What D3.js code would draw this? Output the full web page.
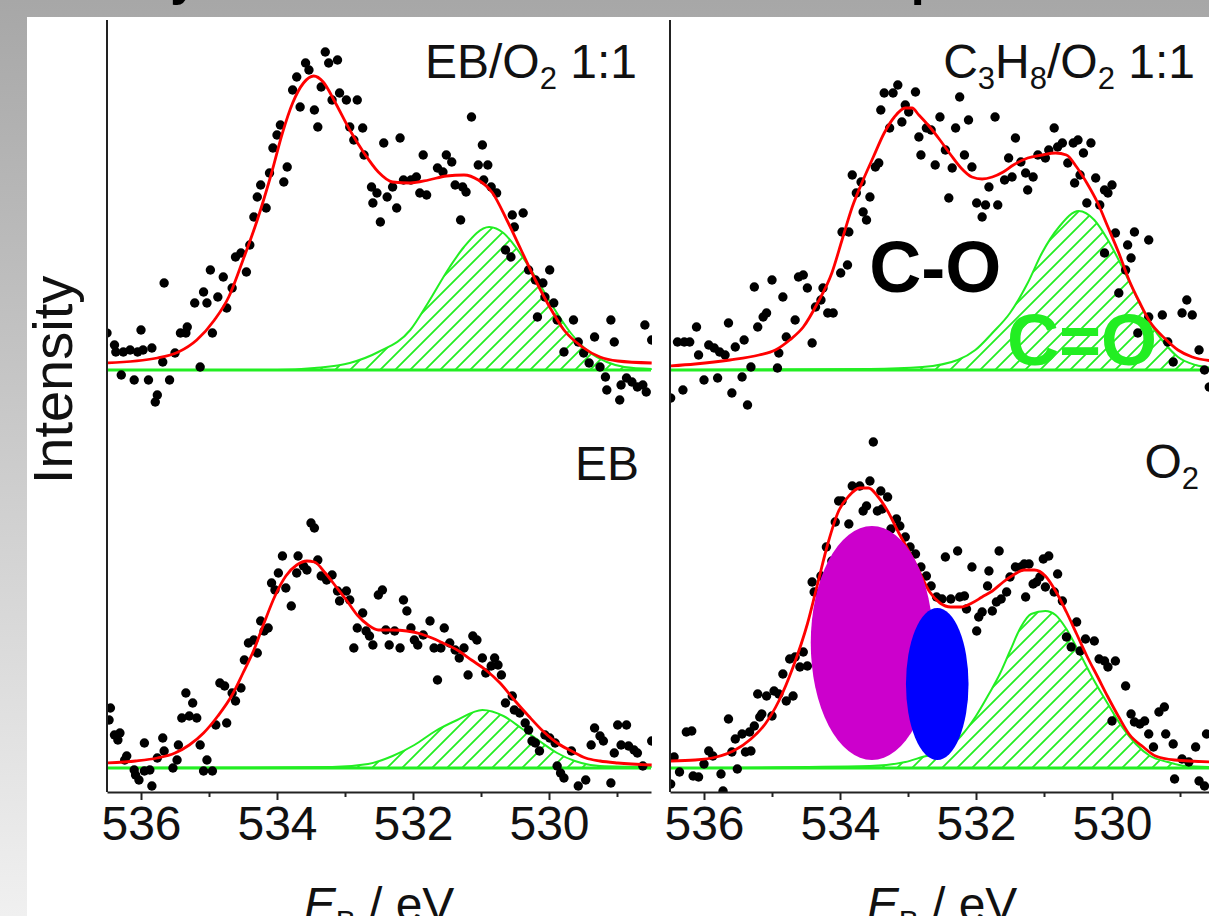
<!DOCTYPE html>
<html>
<head>
<meta charset="utf-8">
<script src="https://cdn.jsdelivr.net/npm/d3@7"></script>
<style>
  body { margin: 0; background: #fff; }
  svg { display: block; font-family: "Liberation Sans", Arial, sans-serif; }
</style>
</head>
<body>
<div id="chart"></div>
<script>
// O 1s spectra: binding energy (eV) vs intensity (a.u., 0 = background)
var majorTicks = [536, 534, 532, 530];
var minorTicks = [535, 533, 531, 529];

// ---- EB/O2 1:1 ----
var ebo2Points = [
  [536.50,0.37],[536.39,0.25],[536.37,0.18],[536.26,0.18],[536.16,0.20],[536.05,0.18],[535.97,0.20],[535.84,0.22],
  [536.00,0.40],[536.29,-0.05],[536.10,-0.10],[535.89,-0.10],[535.76,-0.25],[535.79,-0.32],[535.58,-0.10],[535.68,0.08],
  [535.50,0.17],[535.66,0.87],[535.42,0.37],[535.32,0.43],[535.34,0.37],[535.21,0.67],[535.08,0.78],[535.03,0.67],
  [534.98,1.00],[534.87,0.73],[534.79,0.93],[534.74,0.62],[534.66,0.82],[534.95,0.37],[535.13,0.03],[534.61,1.13],
  [534.53,1.17],[534.45,0.98],[534.40,1.25],[534.34,1.53],[534.29,1.73],[534.24,1.85],[534.16,1.62],[534.11,1.97],
  [534.06,2.22],[534.00,2.35],[533.95,2.45],[533.85,2.03],[533.90,1.88],[533.77,2.80],[533.71,2.93],[533.66,2.63],
  [533.58,3.07],[533.53,3.00],[533.45,2.60],[533.40,2.43],[533.35,2.83],[533.29,3.18],[533.24,3.07],[533.11,3.10],
  [533.19,2.70],[533.08,2.77],[532.98,2.70],[532.82,2.70],[532.93,2.43],[532.87,2.30],[532.74,2.42],[532.72,2.15],
  [532.61,1.83],[532.53,1.77],[532.43,2.27],[532.38,1.73],[532.30,1.83],[532.19,2.32],[532.14,1.90],[532.24,1.62],
  [532.48,1.48],[532.59,1.67],[532.03,1.90],[531.95,1.93],[531.90,1.77],[531.85,2.15],[531.80,1.75],[531.64,2.02],
  [531.56,1.98],[531.51,2.15],[531.43,2.08],[531.38,1.85],[531.27,1.83],[531.22,1.78],[531.14,2.53],[531.04,2.05],
  [530.98,2.25],[530.90,2.05],[530.96,1.90],[530.85,1.83],[530.77,1.77],[531.30,1.50],[530.54,1.55],[530.38,1.57],
  [530.51,1.43],[530.64,1.20],[530.56,1.13],[530.30,1.00],[530.20,0.90],[530.09,0.87],[529.99,1.00],[530.06,0.73],
  [529.93,0.67],[530.17,0.53],[529.88,0.50],[529.78,0.18],[529.64,0.50],[529.57,0.28],[529.49,0.17],[529.33,0.33],
  [529.41,0.07],[529.25,0.03],[529.09,0.50],[529.04,0.28],[529.17,-0.07],[529.15,-0.20],[528.94,-0.15],[528.86,-0.08],
  [528.78,-0.12],[528.70,-0.17],[528.62,-0.15],[528.59,0.45],[528.49,0.30],[528.57,-0.22],[528.96,-0.30]
];
var ebo2Fit = [
  [536.50,0.07],[535.76,0.12],[535.45,0.18],[535.18,0.30],[534.92,0.50],[534.71,0.73],[534.50,1.10],[534.29,1.50],
  [534.08,1.97],[533.92,2.37],[533.77,2.67],[533.61,2.87],[533.46,2.94],[533.32,2.88],[533.14,2.67],[532.93,2.40],
  [532.72,2.17],[532.51,1.98],[532.30,1.88],[532.04,1.87],[531.77,1.90],[531.51,1.94],[531.25,1.95],[531.04,1.90],
  [530.83,1.77],[530.62,1.50],[530.41,1.20],[530.20,0.90],[529.99,0.63],[529.78,0.40],[529.51,0.23],[529.25,0.13],
  [528.99,0.09],[528.49,0.07]
];
var ebo2Peak = [
  [536.50,0.00],[534.00,0.00],[533.45,0.02],[532.93,0.07],[532.51,0.18],[532.04,0.40],[531.78,0.67],[531.46,1.03],
  [531.25,1.23],[530.88,1.43],[530.67,1.37],[530.46,1.20],[530.20,0.93],[529.94,0.63],[529.68,0.37],[529.41,0.18],
  [529.15,0.08],[528.89,0.03],[528.49,0.01]
];

// ---- C3H8/O2 1:1 ----
var c3h8Points = [
  [536.49,-0.28],[536.31,-0.20],[536.39,0.28],[536.29,0.28],[536.21,0.28],[536.11,0.43],[536.08,0.15],[536.00,-0.10],
  [535.93,0.25],[535.85,0.22],[535.80,-0.08],[535.77,0.18],[535.69,0.15],[535.64,0.47],[535.59,-0.23],[535.54,0.23],
  [535.44,-0.07],[535.41,0.30],[535.36,-0.35],[535.31,0.03],[535.26,0.83],[535.21,0.43],[535.13,0.53],[535.08,0.57],
  [535.00,0.90],[534.92,0.02],[534.90,0.17],[534.84,0.73],[534.79,0.33],[534.66,0.50],[534.61,0.93],[534.54,0.95],
  [534.48,0.82],[534.41,0.27],[534.36,0.63],[534.28,0.70],[534.25,0.82],[534.18,0.57],[534.10,0.57],[533.99,0.97],
  [533.97,1.38],[533.89,1.05],[533.87,1.38],[533.82,1.95],[533.76,1.77],[533.69,1.88],[533.66,1.58],[533.61,1.50],
  [533.56,1.73],[533.48,2.03],[533.43,2.07],[533.40,2.60],[533.35,2.77],[533.27,2.42],[533.22,2.77],[533.15,2.85],
  [533.09,2.48],[533.04,2.65],[532.99,2.58],[532.89,2.78],[532.84,2.33],[532.81,2.15],[532.73,2.42],[532.66,2.40],
  [532.60,2.05],[532.53,2.53],[532.45,2.20],[532.40,1.72],[532.35,2.02],[532.30,2.42],[532.24,2.73],[532.17,2.15],
  [532.11,2.50],[532.06,2.03],[531.99,1.67],[531.91,1.53],[531.86,1.65],[531.81,1.83],[531.72,2.53],[531.68,1.65],
  [531.58,1.90],[531.52,2.12],[531.47,1.93],[531.42,2.32],[531.34,2.08],[531.27,1.97],[531.24,1.80],[531.16,1.93],
  [531.09,2.15],[530.98,2.12],[530.93,2.20],[530.85,2.42],[530.80,2.23],[530.73,2.27],[530.65,2.07],[530.57,2.27],
  [530.50,2.30],[530.47,1.95],[530.42,2.17],[530.31,2.27],[530.55,1.87],[530.37,1.67],[530.24,1.92],[530.18,1.65],
  [530.11,1.80],[530.00,1.85],[530.06,1.77],[530.11,1.17],[529.95,1.37],[529.77,1.25],[529.72,1.12],[529.67,1.38],
  [529.46,1.30],[529.90,0.77],[529.80,1.00],[529.62,0.37],[529.46,0.53],[529.26,0.55],[529.18,0.28],[529.10,0.08],
  [528.97,0.57],[528.90,0.70],[528.82,0.55],[528.72,0.20],[528.64,0.00],[528.57,-0.17]
];
var c3h8Fit = [
  [536.50,0.04],[536.13,0.06],[535.62,0.10],[535.19,0.15],[534.95,0.20],[534.74,0.30],[534.54,0.43],[534.33,0.67],
  [534.12,0.97],[533.97,1.30],[533.82,1.63],[533.66,1.90],[533.51,2.13],[533.35,2.37],[533.20,2.53],[533.04,2.62],
  [532.94,2.62],[532.84,2.55],[532.68,2.43],[532.53,2.30],[532.37,2.15],[532.22,2.02],[532.06,1.93],[531.91,1.91],
  [531.76,1.93],[531.60,1.98],[531.45,2.05],[531.24,2.12],[531.03,2.15],[530.83,2.17],[530.67,2.15],[530.52,2.03],
  [530.37,1.87],[530.21,1.67],[530.06,1.43],[529.90,1.17],[529.75,0.90],[529.59,0.67],[529.44,0.48],[529.23,0.32],
  [529.03,0.20],[528.82,0.13],[528.50,0.09]
];
var c3h8Peak = [
  [536.50,0.00],[533.56,0.01],[532.79,0.03],[532.27,0.10],[532.01,0.20],[531.76,0.37],[531.50,0.57],[531.24,0.87],
  [531.03,1.17],[530.78,1.43],[530.49,1.59],[530.26,1.50],[530.06,1.30],[529.85,1.03],[529.64,0.73],[529.44,0.47],
  [529.23,0.27],[529.03,0.13],[528.77,0.05],[528.50,0.02]
];

// ---- EB ----
var ebPoints = [
  [536.45,0.60],[536.47,0.48],[536.39,0.33],[536.31,0.35],[536.34,0.28],[536.21,0.12],[536.24,0.08],[536.10,-0.02],
  [536.08,-0.07],[536.03,-0.12],[535.95,-0.03],[535.87,-0.02],[535.84,-0.18],[535.95,0.25],[535.76,0.10],[535.68,0.30],
  [535.66,0.17],[535.53,0.00],[535.47,0.08],[535.45,0.23],[535.40,0.50],[535.34,0.75],[535.29,0.52],[535.24,0.65],
  [535.18,0.50],[535.13,0.23],[535.08,-0.03],[535.03,0.08],[534.95,-0.03],[534.90,0.43],[534.84,0.85],[534.77,0.82],
  [534.74,0.45],[534.66,0.75],[534.61,0.67],[534.53,0.80],[534.48,1.08],[534.42,1.25],[534.34,1.28],[534.29,1.15],
  [534.24,1.47],[534.19,1.37],[534.13,1.40],[534.08,1.85],[534.03,1.78],[533.98,1.95],[533.92,2.12],[533.87,1.80],
  [533.79,1.62],[533.71,1.95],[533.69,2.12],[533.61,2.02],[533.56,1.98],[533.50,2.45],[533.45,2.40],[533.40,2.08],
  [533.35,1.92],[533.27,1.88],[533.19,1.93],[533.11,1.77],[533.08,1.67],[532.98,1.77],[532.93,1.68],[532.87,1.20],
  [532.82,1.40],[532.74,1.55],[532.69,1.37],[532.64,1.32],[532.59,1.23],[532.51,1.73],[532.45,1.78],[532.40,1.38],
  [532.35,1.23],[532.27,1.37],[532.19,1.20],[532.14,1.68],[532.09,1.57],[532.03,1.40],[531.98,1.28],[531.93,1.23],
  [531.85,1.33],[531.75,1.47],[531.69,1.20],[531.64,0.88],[531.59,1.20],[531.54,1.40],[531.46,1.25],[531.38,1.18],
  [531.32,1.10],[531.25,1.20],[531.19,0.93],[531.12,1.32],[531.06,1.28],[530.98,1.10],[530.93,0.95],[530.85,1.02],
  [530.80,1.10],[530.75,1.03],[530.70,0.93],[530.64,0.65],[530.54,0.72],[530.51,0.58],[530.43,0.55],[530.35,0.45],
  [530.30,0.38],[530.25,0.27],[530.20,0.25],[530.14,0.17],[530.06,0.33],[529.99,0.30],[529.91,0.25],[529.88,0.02],
  [529.83,-0.05],[529.78,-0.10],[529.67,0.17],[529.57,-0.18],[529.46,-0.12],[529.38,0.23],[529.33,0.40],[529.25,0.32],
  [529.20,0.27],[529.09,-0.15],[529.04,0.15],[528.99,0.43],[528.86,0.43],[528.94,0.23],[528.83,0.22],[528.75,0.18],
  [528.70,0.15],[528.62,0.02],[528.49,0.27]
];
var ebFit = [
  [536.50,0.05],[536.08,0.07],[535.76,0.10],[535.50,0.15],[535.29,0.23],[535.08,0.35],[534.87,0.52],[534.66,0.73],
  [534.50,0.95],[534.34,1.18],[534.19,1.45],[534.03,1.72],[533.87,1.92],[533.71,2.03],[533.56,2.07],[533.45,2.06],
  [533.29,1.95],[533.14,1.82],[532.98,1.68],[532.82,1.53],[532.66,1.43],[532.51,1.38],[532.30,1.38],[532.09,1.37],
  [531.88,1.34],[531.72,1.30],[531.56,1.25],[531.35,1.18],[531.14,1.08],[530.93,0.98],[530.72,0.85],[530.51,0.68],
  [530.30,0.52],[530.09,0.37],[529.88,0.25],[529.67,0.17],[529.46,0.10],[529.25,0.07],[528.99,0.05],[528.49,0.03]
];
var ebPeak = [
  [536.50,0.00],[533.19,0.01],[532.66,0.04],[532.30,0.12],[531.98,0.23],[531.67,0.37],[531.35,0.48],[530.98,0.58],
  [530.67,0.52],[530.41,0.40],[530.14,0.27],[529.88,0.15],[529.62,0.07],[529.25,0.02],[528.49,0.01]
];

// ---- O2 ----
var o2Points = [
  [536.49,-0.16],[536.44,0.11],[536.36,-0.04],[536.26,0.36],[536.18,0.37],[536.16,-0.08],[536.08,-0.09],[536.00,0.04],
  [535.93,0.17],[535.87,0.12],[535.75,-0.06],[535.72,-0.23],[535.64,0.49],[535.59,0.16],[535.54,0.29],[535.51,-0.01],
  [535.44,0.34],[535.39,0.16],[535.33,0.36],[535.31,0.17],[535.26,0.42],[535.18,0.51],[535.15,0.54],[535.21,0.74],
  [535.08,0.72],[535.00,0.52],[534.97,0.77],[534.90,0.74],[534.84,0.94],[534.79,0.67],[534.74,1.09],[534.69,0.72],
  [534.66,1.11],[534.59,1.01],[534.54,1.16],[534.48,1.02],[534.41,1.86],[534.38,1.76],[534.28,1.92],[534.20,2.21],
  [534.12,2.07],[534.07,2.46],[534.02,2.67],[533.97,2.67],[533.87,2.44],[533.82,2.82],[533.71,2.82],[533.66,2.57],
  [533.61,2.62],[533.56,2.87],[533.51,3.26],[533.45,2.57],[533.40,2.77],[533.38,2.59],[533.30,2.71],[533.25,2.39],
  [533.17,2.49],[533.12,2.42],[533.04,2.31],[532.97,2.21],[532.89,2.14],[532.81,2.01],[532.73,1.92],[532.66,1.82],
  [532.58,1.71],[532.50,1.69],[532.45,2.11],[532.37,1.69],[532.27,2.17],[532.24,1.71],[532.17,1.72],[532.14,1.59],
  [532.06,2.01],[531.99,1.37],[531.96,1.51],[531.91,1.56],[531.83,1.82],[531.81,1.97],[531.76,1.57],[531.70,1.66],
  [531.66,2.17],[531.63,1.69],[531.55,1.76],[531.50,1.91],[531.42,2.01],[531.34,2.01],[531.29,2.04],[531.22,2.04],
  [531.27,1.71],[531.16,1.84],[531.11,1.86],[531.06,1.91],[531.01,2.09],[530.93,2.12],[530.98,1.81],[530.80,1.94],
  [530.85,1.76],[530.73,1.67],[530.67,1.31],[530.60,1.21],[530.52,1.46],[530.47,1.17],[530.39,1.29],[530.26,1.27],
  [530.19,1.09],[530.11,1.07],[530.06,1.01],[529.95,1.07],[530.00,0.47],[529.80,0.82],[529.72,0.54],[529.67,0.46],
  [529.59,0.44],[529.52,0.47],[529.46,0.34],[529.39,0.21],[529.31,0.56],[529.23,0.61],[529.21,0.34],[529.10,0.24],
  [529.08,-0.11],[528.97,0.09],[528.87,0.06],[528.77,0.21],[528.72,-0.13],[528.64,-0.18],[528.61,0.34]
];
var o2Fit = [
  [536.50,0.07],[536.13,0.08],[535.82,0.11],[535.57,0.17],[535.31,0.29],[535.10,0.44],[534.90,0.67],[534.69,1.01],
  [534.48,1.44],[534.33,1.84],[534.18,2.24],[534.02,2.57],[533.87,2.72],[533.71,2.80],[533.58,2.80],[533.45,2.72],
  [533.30,2.57],[533.15,2.37],[532.99,2.17],[532.84,1.97],[532.68,1.76],[532.53,1.65],[532.37,1.61],[532.22,1.61],
  [532.06,1.65],[531.91,1.71],[531.76,1.77],[531.60,1.86],[531.45,1.93],[531.29,1.98],[531.14,1.98],[530.98,1.92],
  [530.83,1.77],[530.67,1.56],[530.52,1.34],[530.37,1.12],[530.21,0.91],[530.06,0.71],[529.90,0.51],[529.75,0.34],
  [529.54,0.21],[529.36,0.12],[529.08,0.08],[528.50,0.06]
];
var o2Peak = [
  [536.50,0.00],[533.56,0.02],[533.04,0.06],[532.79,0.11],[532.48,0.17],[532.22,0.32],[532.01,0.51],[531.81,0.74],
  [531.65,0.94],[531.50,1.17],[531.34,1.41],[531.19,1.54],[530.98,1.57],[530.83,1.53],[530.67,1.39],[530.47,1.14],
  [530.26,0.87],[530.06,0.64],[529.85,0.41],[529.65,0.24],[529.44,0.12],[529.18,0.06],[528.92,0.02],[528.50,0.01]
];

// marked regions in the O2 panel: centre (eV, intensity) and half-extent
var o2Marks = [
  { ev: 533.53, i: 1.25, dEv: 0.90, dI: 1.17 },
  { ev: 532.57, i: 0.84, dEv: 0.46, dI: 0.76 }
];
// band labels in the C3H8/O2 panel
var c3h8Bands = [
  { text: "C-O", ev: 532.60, i: 0.78 },
  { text: "C=O", ev: 530.44, i: 0.05 }
];

var width = 1209, height = 916;
var axisY = 792, topY = 20;
var green = "#22ee22";

var svg = d3.select("#chart").append("svg")
    .attr("width", width)
    .attr("height", height);

var defs = svg.append("defs");

var bg = defs.append("linearGradient")
    .attr("id", "bg").attr("x1", 0).attr("y1", 0).attr("x2", 0).attr("y2", 1);
bg.append("stop").attr("offset", 0).attr("stop-color", "#a7a7a7");
bg.append("stop").attr("offset", 1).attr("stop-color", "#f0f0f0");

defs.append("pattern")
    .attr("id", "hatch")
    .attr("patternUnits", "userSpaceOnUse")
    .attr("width", 15).attr("height", 15)
  .append("path")
    .attr("d", "M-2,2 l4,-4 M0,15 l15,-15 M13,17 l4,-4")
    .attr("stroke", green)
    .attr("stroke-width", 1.8);

svg.append("rect").attr("width", width).attr("height", height).attr("fill", "url(#bg)");
svg.append("rect").attr("x", 27).attr("y", 17).attr("width", width - 27).attr("height", height - 17).attr("fill", "#fff");

// slide title above, mostly cut off
svg.append("text").attr("x", 62).attr("y", -5)
    .attr("font-size", 50).attr("font-weight", "bold").text("Analysis");
svg.append("text").attr("x", 808).attr("y", -5)
    .attr("font-size", 50).attr("font-weight", "bold").text("comparison");

var cols = [
  { x0: 107, x1: 651 },
  { x0: 670, x1: 1214 }
];
var rows = [370, 768];

var panels = [
  { col: 0, row: 0, points: ebo2Points, fit: ebo2Fit, peak: ebo2Peak },
  { col: 1, row: 0, points: c3h8Points, fit: c3h8Fit, peak: c3h8Peak },
  { col: 0, row: 1, points: ebPoints, fit: ebFit, peak: ebPeak },
  { col: 1, row: 1, points: o2Points, fit: o2Fit, peak: o2Peak }
];

cols.forEach(function(c, i) {
  defs.append("clipPath").attr("id", "clip" + i)
    .append("rect")
      .attr("x", c.x0 + 1).attr("y", topY)
      .attr("width", c.x1 - c.x0).attr("height", axisY - topY);
  c.x = d3.scaleLinear().domain([536.5, 528.5]).range([c.x0, c.x1]);
});

function yScale(row) {
  return d3.scaleLinear().domain([0, 1]).range([rows[row], rows[row] - 100]);
}

panels.forEach(function(p) {
  var x = cols[p.col].x;
  var y = yScale(p.row);

  var g = svg.append("g").attr("clip-path", "url(#clip" + p.col + ")");

  var area = d3.area()
      .x(function(d) { return x(d[0]); })
      .y0(y(0))
      .y1(function(d) { return y(d[1]); })
      .curve(d3.curveMonotoneX);

  var line = d3.line()
      .x(function(d) { return x(d[0]); })
      .y(function(d) { return y(d[1]); })
      .curve(d3.curveMonotoneX);

  g.append("path")
      .datum(p.peak)
      .attr("fill", "url(#hatch)")
      .attr("stroke", "none")
      .attr("d", area);

  g.append("path")
      .datum(p.peak)
      .attr("fill", "none")
      .attr("stroke", green)
      .attr("stroke-width", 2)
      .attr("d", line);

  g.append("line")
      .attr("x1", x(536.5)).attr("x2", x(528.5))
      .attr("y1", y(0)).attr("y2", y(0))
      .attr("stroke", green)
      .attr("stroke-width", 3);

  g.selectAll(".dot")
      .data(p.points)
    .enter().append("circle")
      .attr("class", "dot")
      .attr("cx", function(d) { return x(d[0]); })
      .attr("cy", function(d) { return y(d[1]); })
      .attr("r", 4.7)
      .attr("fill", "#000");

  g.append("path")
      .datum(p.fit)
      .attr("fill", "none")
      .attr("stroke", "#ff0000")
      .attr("stroke-width", 2.8)
      .attr("stroke-linejoin", "round")
      .attr("d", line);
});

// axes
cols.forEach(function(c) {
  svg.append("line")
      .attr("x1", c.x0).attr("x2", c.x0)
      .attr("y1", topY).attr("y2", axisY)
      .attr("stroke", "#222").attr("stroke-width", 2);

  var major = svg.append("g")
      .attr("transform", "translate(0," + axisY + ")")
      .call(d3.axisBottom(c.x).tickValues(majorTicks).tickSize(8).tickSizeOuter(0).tickPadding(6).tickFormat(d3.format("d")));
  major.select(".domain").attr("stroke", "#222").attr("stroke-width", 2);
  major.selectAll(".tick line").attr("stroke", "#222").attr("stroke-width", 2);
  major.selectAll("text")
      .attr("font-size", 48)
      .attr("font-family", "'Liberation Sans', Arial, sans-serif")
      .attr("fill", "#111");

  var minor = svg.append("g")
      .attr("transform", "translate(0," + axisY + ")")
      .call(d3.axisBottom(c.x).tickValues(minorTicks).tickSize(5).tickSizeOuter(0).tickFormat(""));
  minor.select(".domain").remove();
  minor.selectAll(".tick line").attr("stroke", "#222").attr("stroke-width", 2);

  var lab = svg.append("text")
      .attr("x", (c.x0 + c.x1) / 2)
      .attr("y", 921)
      .attr("text-anchor", "middle")
      .attr("font-size", 48)
      .attr("fill", "#111");
  lab.append("tspan").attr("font-style", "italic").text("E");
  lab.append("tspan").attr("font-size", 30).attr("dy", 10).text("B");
  lab.append("tspan").attr("dy", -10).text(" / eV");
});

svg.append("text")
    .attr("transform", "translate(72,380) rotate(-90)")
    .attr("text-anchor", "middle")
    .attr("font-size", 56)
    .attr("fill", "#111")
    .text("Intensity");

// panel labels: plain strings, or [text] for a subscript
function panelLabel(xr, yb, parts) {
  var t = svg.append("text")
      .attr("x", xr).attr("y", yb)
      .attr("text-anchor", "end")
      .attr("font-size", 48)
      .attr("fill", "#111");
  var shift = 0;
  parts.forEach(function(s) {
    if (typeof s === "string") {
      t.append("tspan").attr("dy", -shift).text(s);
      shift = 0;
    } else {
      t.append("tspan").attr("font-size", 31).attr("dy", 11 - shift).text(s[0]);
      shift = 11;
    }
  });
}
panelLabel(637, 78, ["EB/O", ["2"], " 1:1"]);
panelLabel(1195, 78, ["C", ["3"], "H", ["8"], "/O", ["2"], " 1:1"]);
panelLabel(639, 480, ["EB"]);
panelLabel(1199, 478, ["O", ["2"]]);

// annotations
var xr = cols[1].x;
var yTop = yScale(0), yBot = yScale(1);

svg.selectAll(".band")
    .data(c3h8Bands)
  .enter().append("text")
    .attr("class", "band")
    .attr("x", function(d) { return xr(d.ev); })
    .attr("y", function(d) { return yTop(d.i); })
    .attr("text-anchor", "middle")
    .attr("font-size", 72)
    .attr("font-weight", "bold")
    .attr("fill", function(d, i) { return i === 0 ? "#000" : green; })
    .text(function(d) { return d.text; });

svg.selectAll(".mark")
    .data(o2Marks)
  .enter().append("ellipse")
    .attr("class", "mark")
    .attr("cx", function(d) { return xr(d.ev); })
    .attr("cy", function(d) { return yBot(d.i); })
    .attr("rx", function(d) { return Math.abs(xr(d.ev - d.dEv) - xr(d.ev)); })
    .attr("ry", function(d) { return Math.abs(yBot(d.i + d.dI) - yBot(d.i)); })
    .attr("fill", function(d, i) { return i === 0 ? "#cc00cc" : "#0000ff"; });
</script>
</body>
</html>
